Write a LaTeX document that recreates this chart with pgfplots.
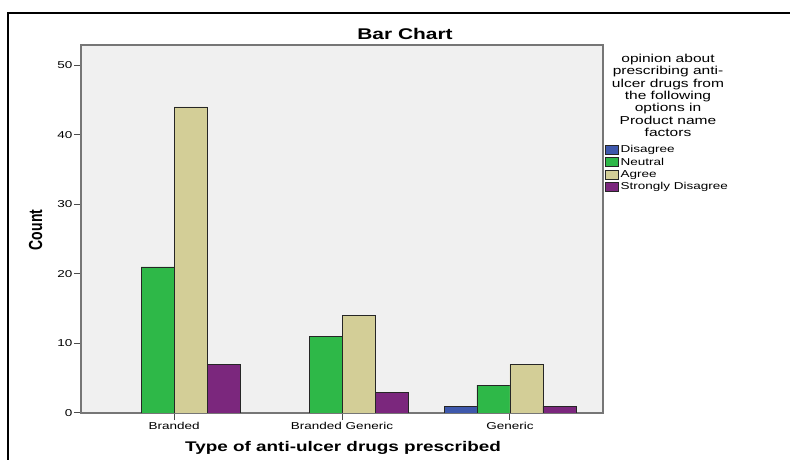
\documentclass[border=0pt]{standalone}
\usepackage{pgfplots}
\pgfplotsset{compat=1.18}
\usepackage{fontspec}
\usepackage{graphicx}
\setmainfont{Liberation Sans}[FakeStretch=1.35]
\newfontfamily\plainsans{Liberation Sans}

\definecolor{cdis}{RGB}{62,88,172}
\definecolor{cneu}{RGB}{46,184,72}
\definecolor{cagr}{RGB}{211,206,151}
\definecolor{csdi}{RGB}{123,39,125}
\definecolor{plotbg}{RGB}{240,240,240}
\definecolor{frame}{RGB}{118,118,118}

\pgfplotsset{
  every axis plot post/.append style={
    legend image code/.code={\draw[##1, line width=0.6pt] (0pt,-4.5pt) rectangle (13pt,4.5pt);}
  },
  spssbar/.style={ybar, bar width=33pt, bar shift=#1, draw=black!85, line width=0.7pt},
}

\begin{document}
\begin{tikzpicture}[x=1pt,y=1pt]
\path[use as bounding box] (0,0) rectangle (790,460);
\draw[line width=2pt] (8,0) -- (8,447) -- (790,447);
\coordinate (axsw) at (81,47);

\begin{axis}[
  at={(axsw)}, anchor=south west,
  scale only axis, width=522pt, height=368pt,
  xmin=-0.554, xmax=2.554, ymin=0, ymax=52.9,
  xtick={0,1,2},
  xticklabels={Branded, Branded Generic, Generic},
  ytick={0,10,20,30,40,50},
  tick pos=left, tick align=outside,
  major tick length=7pt,
  tick style={draw=black!70, line width=1pt},
  axis background/.style={fill=plotbg},
  axis line style={draw=frame, line width=1.6pt},
  ticklabel style={font=\fontsize{10}{12}\selectfont},
  yticklabel style={inner xsep=1.5pt},
  xticklabel style={inner ysep=2pt},
  /pgf/number format/assume math mode=true,
  legend style={at={(1.004,0.729)}, anchor=north west, draw=none, fill=none,
    inner sep=0pt, outer sep=0pt, row sep=2.3pt,
    nodes={font=\fontsize{10}{12}\selectfont, inner xsep=2pt, inner ysep=0pt,
      text height=8pt, text depth=2pt}},
  legend cell align=left,
]
\addplot[spssbar=-49.5pt, fill=cdis] coordinates {(2,1)};
\addlegendentry{Disagree}
\addplot[spssbar=-16.5pt, fill=cneu] coordinates {(0,21) (1,11) (2,4)};
\addlegendentry{Neutral}
\addplot[spssbar=16.5pt, fill=cagr] coordinates {(0,44) (1,14) (2,7)};
\addlegendentry{Agree}
\addplot[spssbar=49.5pt, fill=csdi] coordinates {(0,7) (1,3) (2,1)};
\addlegendentry{Strongly Disagree}
\end{axis}

\node[anchor=base, font=\bfseries\fontsize{15.5}{18}\selectfont] at (405,420) {Bar Chart};
\node[anchor=base, font=\bfseries\fontsize{14}{16}\selectfont] at (343,8.3) {Type of anti-ulcer drugs prescribed};
\node[rotate=90, inner sep=0pt] at (35.5,230) {\scalebox{1}[1.35]{\plainsans\bfseries\fontsize{14}{16}\selectfont Count}};
\node[anchor=north, align=center, inner sep=0pt, font=\fontsize{11.5}{12.3}\selectfont] at (668,406)
  {opinion about\\prescribing anti-\\ulcer drugs from\\the following\\options in\\Product name\\factors};
\end{tikzpicture}
\end{document}
